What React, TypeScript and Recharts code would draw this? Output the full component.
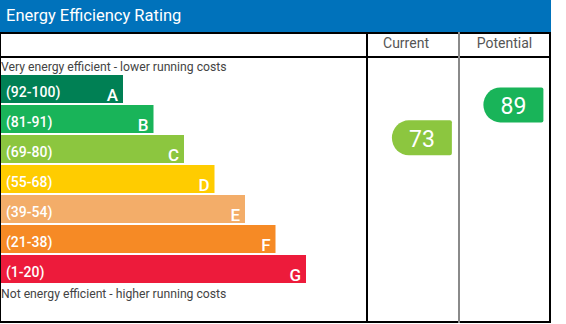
import { ComposedChart, Bar, Scatter, XAxis, YAxis } from "recharts"

// Rating bands, best first
const BANDS = ["A", "B", "C", "D", "E", "F", "G"]
const RANGES = ["(92-100)", "(81-91)", "(69-80)", "(55-68)", "(39-54)", "(21-38)", "(1-20)"]
const BAND_MIN = [92, 81, 69, 55, 39, 21, 1]
const BAR_LENGTHS = [4, 5, 6, 7, 8, 9, 10]
const BAND_COLORS = ["#008054", "#19b459", "#8cc63f", "#ffcc00", "#f3ad69", "#f68a25", "#ed1b3b"]

// Property ratings shown in the two right-hand columns
const COLUMNS = ["Current", "Potential"]
const SCORES = [73, 89]

const FONT = "Roboto, sans-serif"

const bandData = BANDS.map((band, i) => ({
  band,
  range: RANGES[i],
  length: BAR_LENGTHS[i],
  color: BAND_COLORS[i],
}))

const colorFor = (score: number) => {
  const i = BAND_MIN.findIndex((min) => score >= min)
  return BAND_COLORS[i === -1 ? BAND_COLORS.length - 1 : i]
}

const ratingData = COLUMNS.map((column, i) => ({
  column,
  col: i,
  score: SCORES[i],
}))

const BandBar = (props: any) => {
  const { x, y, width, height, payload } = props
  return (
    <g>
      <rect x={x} y={y} width={width} height={height} fill={payload.color} />
      <text x={x + 5} y={y + 22} fill="#fff" fontSize={14} fontWeight={500} fontFamily={FONT}>
        {payload.range}
      </text>
      <text
        x={x + width - 5}
        y={y + height - 2}
        fill="#fff"
        fontSize={17}
        fontWeight={500}
        textAnchor="end"
        fontFamily={FONT}
      >
        {payload.band}
      </text>
    </g>
  )
}

const RatingArrow = (props: any) => {
  const { cx, cy, payload } = props
  const w = 60
  const h = 35
  const rx = 17
  const left = cx - w / 2
  const right = cx + w / 2
  const top = cy - h / 2
  const bottom = cy + h / 2
  const d = [
    `M${right - 2},${top}`,
    `Q${right},${top} ${right},${top + 2}`,
    `L${right},${bottom - 2}`,
    `Q${right},${bottom} ${right - 2},${bottom}`,
    `L${left + rx},${bottom}`,
    `A${rx},${h / 2} 0 0 1 ${left + rx},${top}`,
    "Z",
  ].join(" ")
  return (
    <g>
      <path d={d} fill={colorFor(payload.score)} />
      <text
        x={cx}
        y={cy + 9}
        fill="#fff"
        fontSize={23}
        textAnchor="middle"
        fontFamily={FONT}
      >
        {payload.score}
      </text>
    </g>
  )
}

const line = (style: React.CSSProperties) => (
  <div style={{ position: "absolute", background: "#000", ...style }} />
)

export default function App() {
  return (
    <div
      style={{
        position: "absolute",
        left: 0,
        top: 0,
        width: 566,
        height: 324,
        background: "#fff",
        fontFamily: FONT,
        overflow: "hidden",
      }}
    >
      <div
        style={{
          position: "absolute",
          left: 0,
          top: 0,
          width: 551,
          height: 32,
          background: "#0072bb",
          color: "#fff",
          fontSize: 16.5,
          lineHeight: "32px",
          paddingLeft: 6,
          boxSizing: "border-box",
        }}
      >
        Energy Efficiency Rating
      </div>

      {/* table frame */}
      {line({ left: 0, top: 32, width: 551, height: 2 })}
      {line({ left: 0, top: 56, width: 551, height: 2 })}
      {line({ left: 0, top: 321, width: 551, height: 2 })}
      {line({ left: 0, top: 32, width: 1, height: 291 })}
      {line({ left: 549, top: 32, width: 2, height: 291 })}
      {line({ left: 366, top: 32, width: 2, height: 291 })}
      {line({ left: 458, top: 32, width: 2, height: 291, background: "#8a8a8a" })}

      <div style={{ position: "absolute", left: 368, top: 35, width: 76, textAlign: "center", fontSize: 14, color: "#555" }}>
        {COLUMNS[0]}
      </div>
      <div style={{ position: "absolute", left: 460, top: 35, width: 89, textAlign: "center", fontSize: 14, color: "#555" }}>
        {COLUMNS[1]}
      </div>

      <div style={{ position: "absolute", left: 1, top: 60, fontSize: 12.2, color: "#444" }}>
        Very energy efficient - lower running costs
      </div>
      <div style={{ position: "absolute", left: 1, top: 287, fontSize: 12.2, color: "#444" }}>
        Not energy efficient - higher running costs
      </div>

      <div style={{ position: "absolute", left: 0, top: 57 }}>
        <ComposedChart
          width={550}
          height={266}
          layout="vertical"
          data={bandData}
          margin={{ top: 17, right: 0, bottom: 39, left: 1 }}
        >
          <XAxis type="number" domain={[0, 18]} hide />
          <XAxis xAxisId="col" type="number" dataKey="col" domain={[-4.6, 1.4]} hide />
          <YAxis type="category" dataKey="band" hide />
          <YAxis yAxisId="score" type="number" dataKey="score" domain={[2, 104]} reversed hide />
          <Bar dataKey="length" barSize={28} shape={BandBar} isAnimationActive={false} />
          <Scatter
            data={ratingData}
            xAxisId="col"
            yAxisId="score"
            shape={RatingArrow}
            isAnimationActive={false}
          />
        </ComposedChart>
      </div>
    </div>
  )
}
